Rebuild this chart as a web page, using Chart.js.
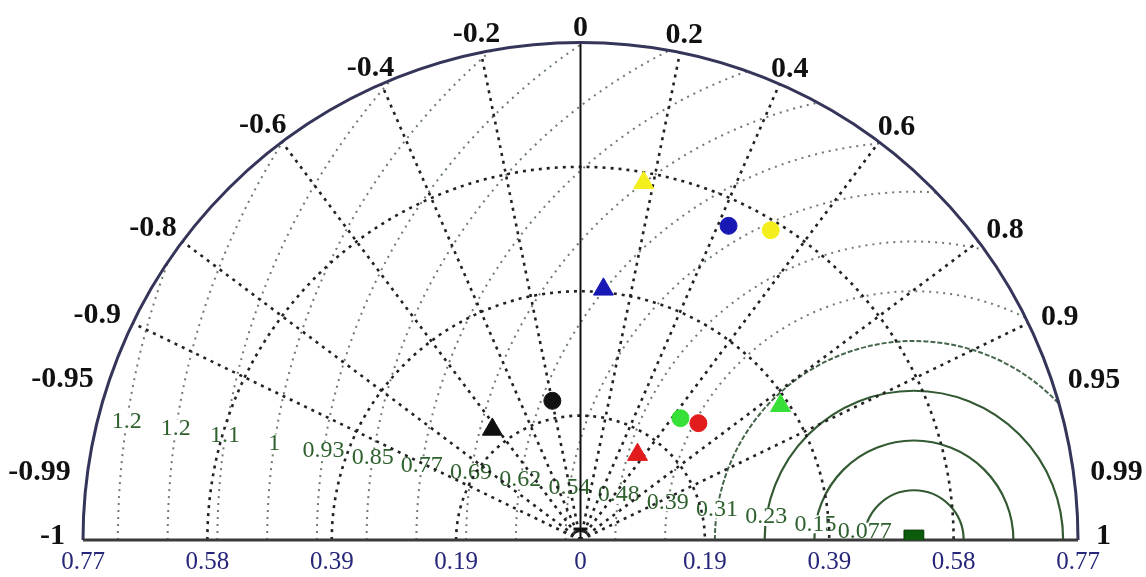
<!DOCTYPE html>
<html>
<head>
<meta charset="utf-8">
<title>Taylor diagram</title>
<script src="https://cdn.jsdelivr.net/npm/chart.js@4.4.1/dist/chart.umd.min.js"></script>
<style>
  html, body { margin: 0; padding: 0; background: #fff; }
  #wrap { width: 1146px; height: 577px; }
</style>
</head>
<body>
<div id="wrap"><canvas id="taylor" width="1146" height="577"></canvas></div>
<script>
// observed (reference) standard deviation
const refStd = 0.516;

// five models, each run twice: circle = run 1, triangle = run 2
const modelNames = ['Model A', 'Model B', 'Model C', 'Model D', 'Model E'];
const circleStd = [0.563, 0.538, 0.244, 0.257, 0.220];
const circleCorr = [0.523, 0.426, 0.634, 0.710, -0.198];
const triangleStd = [0.562, 0.390, 0.373, 0.159, 0.219];
const triangleCorr = [0.174, 0.091, 0.830, 0.555, -0.623];
const modelColors = ['#f4ef1c', '#1818b4', '#36e036', '#e21c1c', '#111111'];

// axes
const stdMax = 0.77;
const stdTicks = [0.1925, 0.385, 0.5775, 0.77];
const stdTickLabels = ['0.19', '0.39', '0.58', '0.77'];
const corrTicks = [-1, -0.99, -0.95, -0.9, -0.8, -0.6, -0.4, -0.2, 0, 0.2, 0.4, 0.6, 0.8, 0.9, 0.95, 0.99, 1];
const corrLines = [-0.9, -0.8, -0.6, -0.4, -0.2, 0.2, 0.4, 0.6, 0.8, 0.9];

// centred RMS difference contours around the reference point
const rmsLevels = [0.077, 0.154, 0.231, 0.308, 0.385, 0.462, 0.539, 0.616, 0.693, 0.77, 0.847, 0.924, 1.001, 1.078, 1.155, 1.232];
const rmsLabels = ['0.077', '0.15', '0.23', '0.31', '0.39', '0.48', '0.54', '0.62', '0.69', '0.77', '0.85', '0.93', '1', '1.1', '1.2', '1.2'];

// (std, corr) -> cartesian
const toXY = (s, c) => ({ x: s * c, y: s * Math.sqrt(1 - c * c) });

const SERIF = '"Liberation Serif", "DejaVu Serif", serif';

const taylorGrid = {
  id: 'taylorGrid',
  beforeDatasetsDraw(chart) {
    const { ctx, scales: { x, y } } = chart;
    const ox = x.getPixelForValue(0);
    const oy = y.getPixelForValue(0);
    const unit = x.getPixelForValue(1) - ox;
    const R = stdMax * unit;
    const refX = x.getPixelForValue(refStd);

    ctx.save();

    // RMS contours, kept inside the half disc
    ctx.save();
    ctx.beginPath();
    ctx.arc(ox, oy, R, Math.PI, 2 * Math.PI);
    ctx.closePath();
    ctx.clip();
    rmsLevels.forEach((r, i) => {
      if (i < 3) {
        ctx.strokeStyle = '#345a34';
        ctx.lineWidth = 2.2;
        ctx.setLineDash([]);
      } else if (i === 3) {
        ctx.strokeStyle = '#46664c';
        ctx.lineWidth = 2;
        ctx.setLineDash([5, 2]);
      } else {
        ctx.strokeStyle = '#6e7c6e';
        ctx.lineWidth = 2;
        ctx.setLineDash([2, 5]);
      }
      ctx.beginPath();
      ctx.arc(refX, oy, r * unit, Math.PI, 2 * Math.PI);
      ctx.stroke();
    });
    ctx.restore();

    // RMS labels on a white patch
    ctx.font = '24px ' + SERIF;
    ctx.textAlign = 'center';
    ctx.textBaseline = 'middle';
    const la = 8.5 * Math.PI / 180;
    rmsLevels.forEach((r, i) => {
      const lx = refX - r * unit * Math.cos(la);
      const ly = oy - r * unit * Math.sin(la) - 1;
      const w = ctx.measureText(rmsLabels[i]).width;
      ctx.fillStyle = '#fff';
      ctx.fillRect(lx - w / 2 - 1, ly - 9, w + 2, 18);
      ctx.fillStyle = '#2f612f';
      ctx.fillText(rmsLabels[i], lx, ly);
    });

    // standard deviation arcs
    ctx.strokeStyle = '#222';
    ctx.lineWidth = 2.6;
    ctx.setLineDash([3, 5]);
    stdTicks.slice(0, -1).forEach(s => {
      ctx.beginPath();
      ctx.arc(ox, oy, s * unit, Math.PI, 2 * Math.PI);
      ctx.stroke();
    });

    // correlation rays
    corrLines.forEach(c => {
      const a = Math.acos(c);
      ctx.beginPath();
      ctx.moveTo(ox, oy);
      ctx.lineTo(ox + R * Math.cos(a), oy - R * Math.sin(a));
      ctx.stroke();
    });

    // zero-correlation axis
    ctx.setLineDash([]);
    ctx.strokeStyle = '#111';
    ctx.lineWidth = 2;
    ctx.beginPath();
    ctx.moveTo(ox, oy);
    ctx.lineTo(ox, oy - R);
    ctx.stroke();

    // outer boundary
    ctx.strokeStyle = '#35355a';
    ctx.lineWidth = 3;
    ctx.beginPath();
    ctx.arc(ox, oy, R, Math.PI, 2 * Math.PI);
    ctx.stroke();

    // baseline
    ctx.strokeStyle = '#3a3a3a';
    ctx.lineWidth = 3;
    ctx.beginPath();
    ctx.moveTo(x.getPixelForValue(-stdMax), oy);
    ctx.lineTo(x.getPixelForValue(stdMax), oy);
    ctx.stroke();

    // std tick labels under the baseline
    ctx.font = '25px ' + SERIF;
    ctx.fillStyle = '#26267a';
    ctx.textAlign = 'center';
    ctx.textBaseline = 'middle';
    ctx.fillText('0', ox, oy + 22);
    stdTicks.forEach((s, i) => {
      ctx.fillText(stdTickLabels[i], x.getPixelForValue(-s), oy + 22);
      ctx.fillText(stdTickLabels[i], x.getPixelForValue(s), oy + 22);
    });

    // correlation labels around the rim
    ctx.font = 'bold 30px ' + SERIF;
    ctx.fillStyle = '#111';
    corrTicks.forEach(c => {
      const a = Math.acos(c);
      const txt = String(c);
      const w = ctx.measureText(txt).width;
      const d = 18 + 0.5 * w * Math.abs(Math.cos(a));
      const shift = Math.abs(c) === 1 ? -4 : (Math.abs(c) < 0.3 ? 4 : 9);
      const px = ox + (R + d) * Math.cos(a);
      const py = oy - (R + d) * Math.sin(a) + shift;
      ctx.fillText(txt, px, py);
    });

    ctx.restore();
  }
};

const datasets = modelNames.map((name, i) => ({
  label: name,
  data: [toXY(circleStd[i], circleCorr[i]), toXY(triangleStd[i], triangleCorr[i])],
  pointStyle: ['circle', 'triangle'],
  pointRadius: [8.5, 11.5],
  backgroundColor: modelColors[i],
  borderColor: modelColors[i],
  borderWidth: 1
}));

datasets.push({
  label: 'Observed',
  data: [toXY(refStd, 1)],
  pointStyle: 'rect',
  pointRadius: 14,
  backgroundColor: '#0b5d0b',
  borderColor: '#063806',
  borderWidth: 1,
  clip: 0
});

datasets.push({
  label: 'Zero',
  data: [toXY(0.017, 0)],
  pointStyle: 'line',
  pointRadius: 7,
  borderColor: '#111',
  borderWidth: 3
});

new Chart(document.getElementById('taylor'), {
  type: 'scatter',
  data: { datasets },
  options: {
    responsive: false,
    devicePixelRatio: 1,
    animation: false,
    events: [],
    layout: { padding: { left: 83, right: 68, top: 43, bottom: 37 } },
    scales: {
      x: { type: 'linear', min: -stdMax, max: stdMax, display: false },
      y: { type: 'linear', min: 0, max: stdMax, display: false }
    },
    plugins: {
      legend: { display: false },
      tooltip: { enabled: false }
    }
  },
  plugins: [taylorGrid]
});
</script>
</body>
</html>
